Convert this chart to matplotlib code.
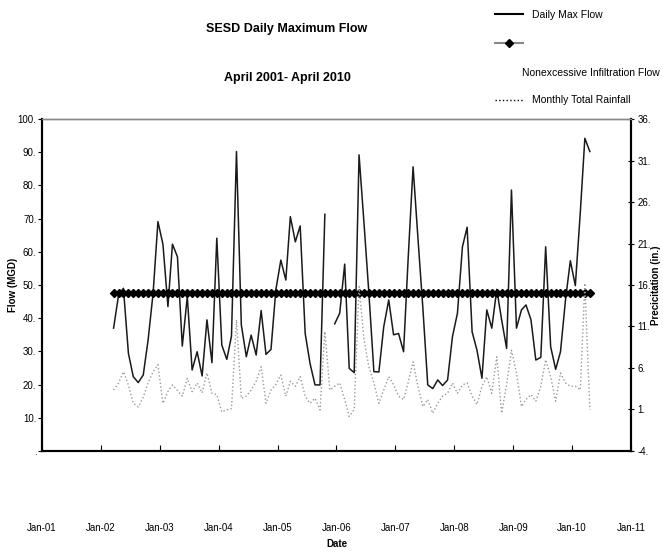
import numpy as np
import pandas as pd
import matplotlib
matplotlib.use('Agg')
import matplotlib.pyplot as plt
import matplotlib.dates as mdates
from matplotlib.lines import Line2D
from matplotlib.ticker import FuncFormatter

plt.rcParams['font.family'] = ['Liberation Sans Narrow', 'Liberation Sans', 'DejaVu Sans']

# monthly values, Mar 2002 .. Apr 2010
dates = pd.date_range('2002-03-01', periods=98, freq='MS') + pd.Timedelta(days=20)

daily_max_flow = [37, 47, 49, 29.4, 22.4, 20.6, 22.9, 33.4, 47.5, 69.1,
                  62.3, 43.5, 62.3, 58.5, 31.6, 46.5, 24.4, 29.9, 22.6, 39.5,
                  26.6, 64.1, 31.9, 27.6, 34.6, 90.2, 38, 28.4, 34.9, 28.9,
                  42.3, 29.1, 30.6, 48.5, 57.5, 51.5, 70.6, 63, 67.8, 35.4,
                  26.4, 19.9, 19.9, 71.3, np.nan, 38.3, 41.5, 56.3, 24.9, 23.6,
                  89.2, 68.4, 47.5, 23.9, 23.8, 37.4, 45.5, 35, 35.4, 29.9,
                  57.5, 85.6, 64.2, 42.8, 19.9, 18.8, 21.4, 19.7, 21.4, 34.4,
                  41.5, 61.5, 67.4, 35.9, 30.4, 21.9, 42.5, 37, 48.7, 39.5,
                  30.9, 78.6, 37, 42.5, 44, 39.5, 27.4, 28.2, 61.5, 31.4,
                  24.6, 29.9, 45.5, 57.3, 49.8, 72, 94.2, 90.2]

infiltration_flow = [47.5] * 98

rainfall = [3.35, 4.2, 5.55, 3.95, 1.75, 1.3, 2.5, 4.2, 5.55, 6.4,
            1.75, 3.15, 3.95, 3.3, 2.6, 4.75, 3.15, 4.2, 3.0, 5.4,
            2.95, 2.8, 0.7, 0.95, 1.1, 11.8, 2.35, 2.6, 3.35, 4.4,
            6.15, 1.75, 3.35, 4.0, 5.15, 2.6, 4.4, 3.8, 4.95, 2.6,
            1.75, 2.35, 0.95, 10.4, 3.35, 3.8, 4.2, 2.2, 0.15, 1.0,
            15.8, 9.4, 6.15, 4.2, 1.75, 3.35, 4.95, 4.0, 2.6, 2.2,
            4.2, 6.75, 3.8, 1.35, 2.2, 0.55, 1.75, 2.6, 2.95, 4.2,
            2.95, 3.95, 4.2, 2.6, 1.6, 3.8, 4.95, 2.95, 7.35, 0.55,
            4.0, 8.15, 5.4, 1.35, 2.2, 2.8, 2.0, 3.8, 7.0, 4.95,
            2.0, 5.4, 4.2, 3.8, 3.8, 3.35, 16.2, 0.95]

fig = plt.figure(figsize=(6.63, 5.52), dpi=100)
ax = fig.add_axes([0.0633, 0.183, 0.8884, 0.6014])

ax.plot(dates, daily_max_flow, color='#1a1a1a', lw=1.1)
ax.plot(dates, infiltration_flow, color='#888888', lw=1.5, marker='D', ms=4.5,
        mfc='black', mec='black')

ax.set_xlim(pd.Timestamp('2001-01-01'), pd.Timestamp('2011-01-01'))
ax.set_ylim(0, 100)
ax.set_yticks(np.arange(0, 101, 10))
ax.yaxis.set_major_formatter(FuncFormatter(lambda v, p: f"{v:.0f}." if v else "."))
ax.xaxis.set_major_locator(mdates.YearLocator())
ax.xaxis.set_major_formatter(mdates.DateFormatter('%b-%y'))
ax.tick_params(axis='x', direction='in', length=4, pad=52, labelsize=7)
ax.tick_params(axis='y', direction='out', length=3, pad=1, labelsize=7)
ax.set_xlabel('Date', fontsize=7, fontweight='bold', labelpad=4)
ax.set_ylabel('Flow (MGD)', fontsize=7, fontweight='bold')
ax.yaxis.set_label_coords(-0.041, 0.5)

ax2 = ax.twinx()
ax2.plot(dates, rainfall, color='#999999', lw=1.0, ls=':')
ax2.set_ylim(-4, 36)
ax2.set_yticks(np.arange(-4, 37, 5))
ax2.yaxis.set_major_formatter(FuncFormatter(lambda v, p: f"{v:.0f}."))
ax2.tick_params(axis='y', direction='inout', length=5, pad=2, labelsize=7)
ax2.set_ylabel('Precicitation (in.)', fontsize=7, fontweight='bold', rotation=90)
ax2.yaxis.set_label_coords(1.034, 0.5)

for a in (ax, ax2):
    for s in ('left', 'right', 'bottom'):
        a.spines[s].set_linewidth(1.5)
        a.spines[s].set_color('black')
    a.spines['top'].set_color('#888888')
    a.spines['top'].set_linewidth(1.0)

title_font = ['Liberation Sans', 'DejaVu Sans']
fig.text(0.433, 0.947, 'SESD Daily Maximum Flow', fontsize=9, fontweight='bold',
         ha='center', va='center', family=title_font)
fig.text(0.433, 0.858, 'April 2001- April 2010', fontsize=9, fontweight='bold',
         ha='center', va='center', family=title_font)

handles = [Line2D([], [], color='black', lw=1.5),
           Line2D([], [], color='#888888', lw=1.5, marker='D', ms=4, mfc='black', mec='black'),
           Line2D([], [], color='none'),
           Line2D([], [], color='black', lw=1.0, ls=':')]
labels = ['Daily Max Flow', ' ', ' ', 'Monthly Total Rainfall']
fig.legend(handles, labels, loc='upper left', bbox_to_anchor=(0.741, 0.99),
           frameon=False, handlelength=2.6, handletextpad=0.9,
           labelspacing=1.78, borderaxespad=0.0,
           prop={'family': title_font, 'size': 7.5})
fig.text(0.788, 0.868, 'Nonexcessive Infiltration Flow', fontsize=7.5,
         ha='left', va='center', family=title_font)

fig.savefig('out.png', dpi=100)
